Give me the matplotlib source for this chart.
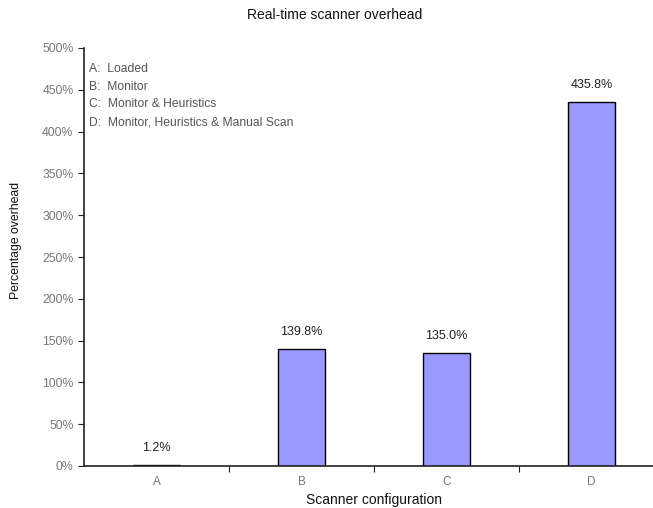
import matplotlib
matplotlib.use("Agg")
import matplotlib.pyplot as plt
from matplotlib.ticker import FuncFormatter

categories = ["A", "B", "C", "D"]
overhead = [1.2, 139.8, 135.0, 435.8]
descriptions = [
    "A:  Loaded",
    "B:  Monitor",
    "C:  Monitor & Heuristics",
    "D:  Monitor, Heuristics & Manual Scan",
]
y_ticks = [0, 50, 100, 150, 200, 250, 300, 350, 400, 450, 500]

plt.rcParams["font.family"] = ["Liberation Sans", "DejaVu Sans"]

W, H = 653, 508
fig = plt.figure(figsize=(W / 100, H / 100), dpi=100)
ax = fig.add_axes([84 / W, 42 / H, 580 / W, 418 / H])

x = list(range(len(categories)))
ax.bar(x, overhead, width=0.33, color="#9999FF", edgecolor="black", linewidth=1.0, zorder=2)

for xi, v in zip(x, overhead):
    ax.annotate(f"{v:.1f}%", (xi, v), xytext=(0, 8), textcoords="offset points",
                ha="center", va="bottom", fontsize=9, color="#222222")

ax.set_xlim(-0.5, 3.5)
ax.set_ylim(0, 500)
ax.set_yticks(y_ticks)
ax.yaxis.set_major_formatter(FuncFormatter(lambda v, p: f"{v:.0f}%"))

ax.set_xticks([i + 0.5 for i in range(len(categories) - 1)] + [3.5])
ax.set_xticklabels([])
ax.set_xticks(x, minor=True)
ax.set_xticklabels(categories, minor=True)
ax.tick_params(axis="x", which="major", length=4, width=0.8, direction="out", colors="#222222")
ax.tick_params(axis="x", which="minor", length=0, pad=7, labelsize=8.5, labelcolor="#777777")
ax.tick_params(axis="y", length=4, width=0.8, direction="out", labelsize=8.8, labelcolor="#777777", color="#222222")

for s in ["top", "right"]:
    ax.spines[s].set_visible(False)
ax.spines["left"].set_linewidth(1.2)
ax.spines["left"].set_color("#222222")
ax.spines["bottom"].set_linewidth(1.2)
ax.spines["bottom"].set_color("#222222")

for i, d in enumerate(descriptions):
    fig.text(89 / W, 1 - (69 + 17.7 * i) / H, d, ha="left", va="center",
             fontsize=8.7, color="#555555")

fig.text(335 / W, 1 - 15 / H, "Real-time scanner overhead",
         ha="center", va="center", fontsize=10, color="#111111")
fig.text(374 / W, 1 - 500 / H, "Scanner configuration", ha="center", va="center",
         fontsize=10, color="#111111")
fig.text(16 / W, 1 - 240 / H, "Percentage overhead", ha="center", va="center",
         rotation=90, fontsize=8.8, color="#111111")

fig.savefig("out.png", dpi=100)
